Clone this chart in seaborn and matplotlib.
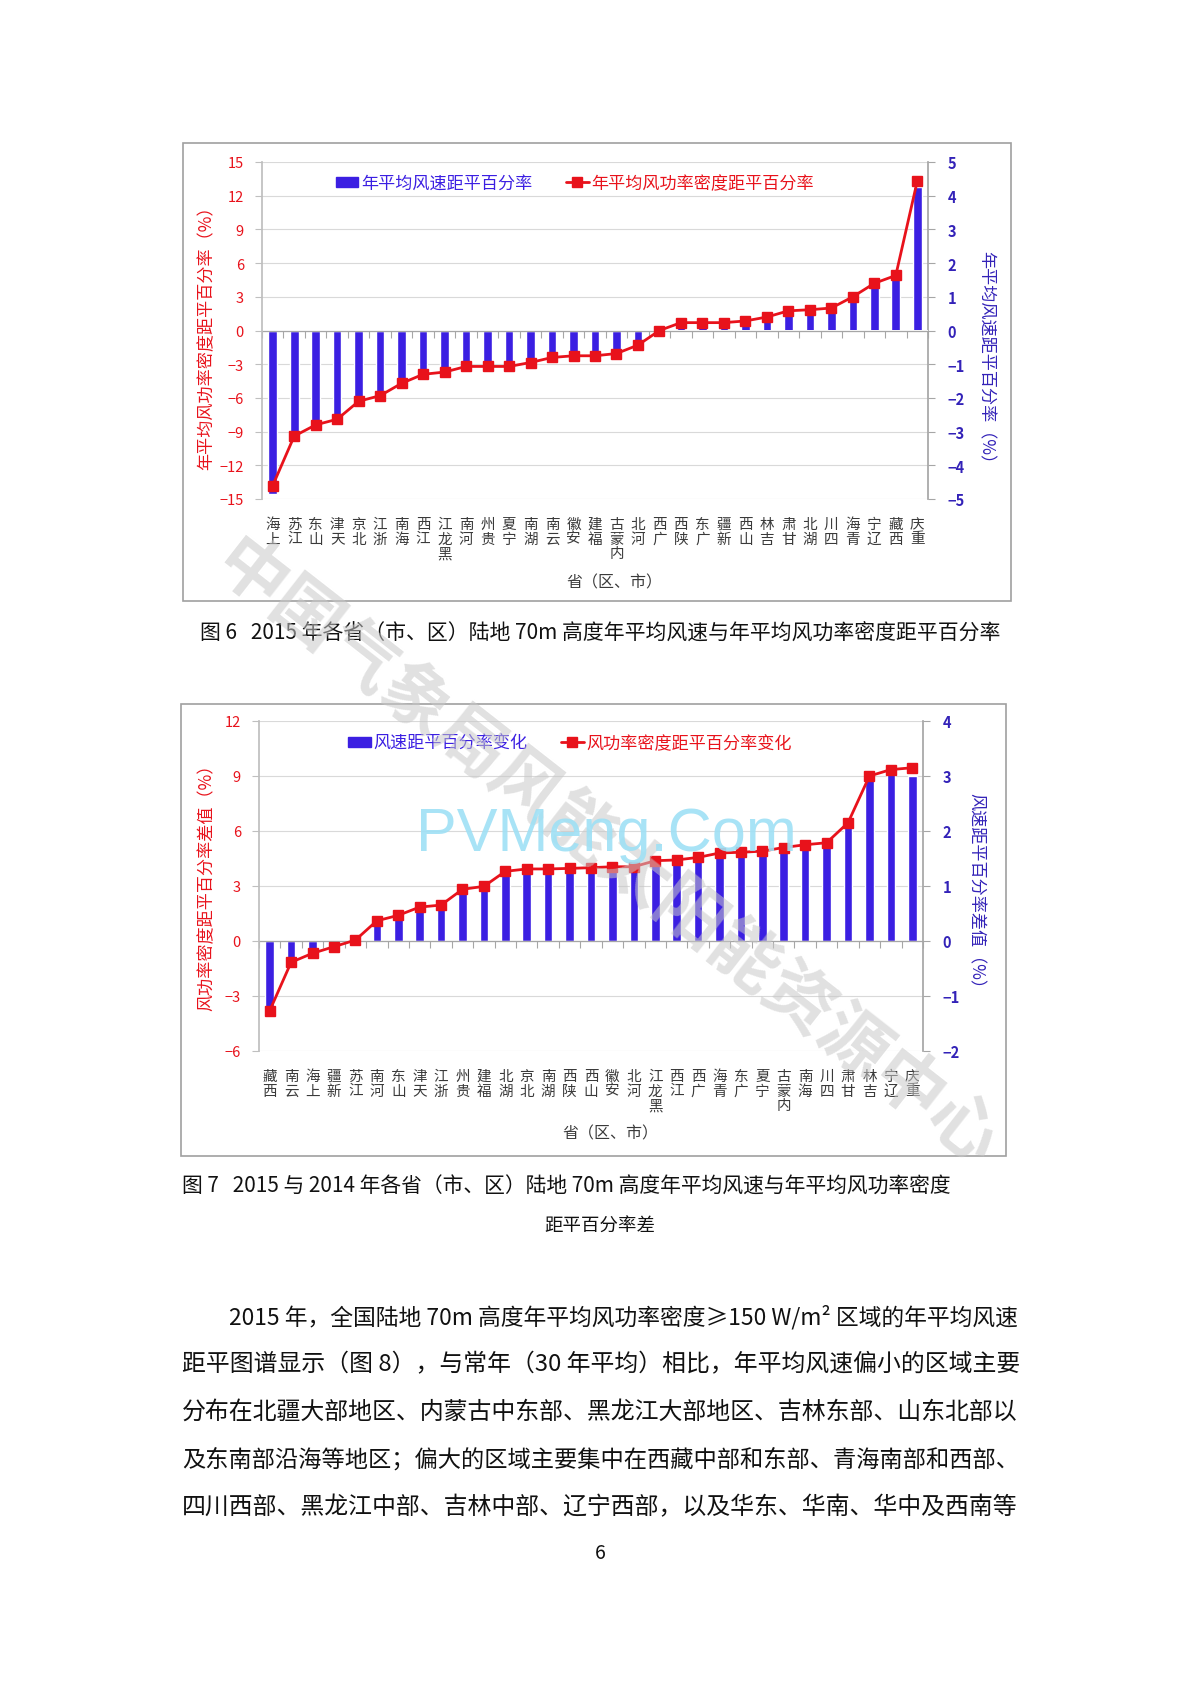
import numpy as np
import matplotlib
matplotlib.use("Agg")
import matplotlib.pyplot as plt
from matplotlib.lines import Line2D
from matplotlib.patches import Rectangle
import seaborn as sns

# --- data -------------------------------------------------------------------
provinces_2015 = ["上海", "江苏", "山东", "天津", "北京", "浙江", "海南", "江西", "黑龙江",
                  "河南", "贵州", "宁夏", "湖南", "云南", "安徽", "福建", "内蒙古", "河北",
                  "广西", "陕西", "广东", "新疆", "山西", "吉林", "甘肃", "湖北", "四川",
                  "青海", "辽宁", "西藏", "重庆"]
speed_anomaly_2015 = [-4.84, -3.2, -2.82, -2.65, -2.05, -1.9, -1.45, -1.22, -1.15,
                      -1.0, -1.0, -0.98, -0.88, -0.75, -0.68, -0.68, -0.66, -0.38,
                      0.0, 0.12, 0.12, 0.12, 0.18, 0.3, 0.5, 0.55, 0.6,
                      0.92, 1.35, 1.55, 4.25]
power_anomaly_2015 = [-13.8, -9.4, -8.4, -7.9, -6.3, -5.8, -4.7, -3.9, -3.7,
                      -3.2, -3.2, -3.2, -2.85, -2.4, -2.25, -2.25, -2.05, -1.3,
                      0.0, 0.7, 0.7, 0.7, 0.85, 1.2, 1.75, 1.85, 2.0,
                      3.0, 4.2, 4.9, 13.3]

provinces_diff = ["西藏", "云南", "上海", "新疆", "江苏", "河南", "山东", "天津", "浙江",
                  "贵州", "福建", "湖北", "北京", "湖南", "陕西", "山西", "安徽", "河北",
                  "黑龙江", "江西", "广西", "青海", "广东", "宁夏", "内蒙古", "海南", "四川",
                  "甘肃", "吉林", "辽宁", "重庆"]
speed_diff = [-1.2, -0.35, -0.19, -0.09, 0.01, 0.33, 0.42, 0.57, 0.6,
              0.9, 0.95, 1.22, 1.25, 1.25, 1.26, 1.27, 1.28, 1.28,
              1.41, 1.42, 1.47, 1.56, 1.57, 1.59, 1.65, 1.71, 1.74,
              2.1, 2.95, 3.08, 3.0]
power_diff = [-3.8, -1.16, -0.67, -0.31, 0.05, 1.1, 1.4, 1.85, 1.96,
              2.82, 2.98, 3.8, 3.93, 3.93, 3.96, 4.0, 4.05, 4.05,
              4.38, 4.42, 4.56, 4.8, 4.84, 4.9, 5.1, 5.25, 5.36,
              6.45, 9.0, 9.35, 9.45]

left_ticks_2015 = [-15, -12, -9, -6, -3, 0, 3, 6, 9, 12, 15]
right_ticks_2015 = [-5, -4, -3, -2, -1, 0, 1, 2, 3, 4, 5]
left_ticks_diff = [-6, -3, 0, 3, 6, 9, 12]
right_ticks_diff = [-2, -1, 0, 1, 2, 3, 4]

caption_6 = "图 6   2015 年各省（市、区）陆地 70m 高度年平均风速与年平均风功率密度距平百分率"
caption_7 = ["图 7   2015 与 2014 年各省（市、区）陆地 70m 高度年平均风速与年平均风功率密度",
             "距平百分率差"]
paragraph = [
    "2015 年，全国陆地 70m 高度年平均风功率密度≥150 W/m² 区域的年平均风速",
    "距平图谱显示（图 8），与常年（30 年平均）相比，年平均风速偏小的区域主要",
    "分布在北疆大部地区、内蒙古中东部、黑龙江大部地区、吉林东部、山东北部以",
    "及东南部沿海等地区；偏大的区域主要集中在西藏中部和东部、青海南部和西部、",
    "四川西部、黑龙江中部、吉林中部、辽宁西部，以及华东、华南、华中及西南等",
]

BAR_BLUE = "#3B1FE2"
TICK_BLUE = "#3322B8"
LINE_RED = "#E8121B"
W, H, DPI = 1190, 1683, 100

sns.set_theme(style="white")
plt.rcParams["font.family"] = ["Noto Sans CJK SC", "DejaVu Sans"]


def px_rect(x0, y0, x1, y1):
    return [x0 / W, 1 - y1 / H, (x1 - x0) / W, (y1 - y0) / H]


def draw_chart(fig, rect, cats, bars, line, lticks, rticks, labels, xlabel_pos,
               ylab_left, ylab_right, legend_labels, legend_center):
    ax = fig.add_axes(px_rect(*rect))
    axr = ax.twinx()

    sns.barplot(x=cats, y=bars, order=cats, color=BAR_BLUE, saturation=1,
                width=0.4, ax=axr, zorder=2)
    axr.set_ylim(rticks[0], rticks[-1])
    axr.set_yticks(rticks)
    axr.grid(axis="y", color="#D9D9D9", lw=0.8)
    axr.set_axisbelow(True)
    axr.set_ylabel(labels[1], color=TICK_BLUE, fontsize=12.3, rotation=270,
                   ha="center", va="center")
    axr.yaxis.set_label_coords(*ylab_right)
    axr.tick_params(axis="y", length=5, width=0.8, color="#A6A6A6",
                    labelcolor=TICK_BLUE, labelsize=10.5, pad=9)
    for t in axr.get_yticklabels():
        t.set_fontweight("bold")

    x = np.arange(len(cats))
    ax.plot(x, line, color=LINE_RED, lw=2.0, marker="s", ms=6.5,
            mfc=LINE_RED, mec=LINE_RED, zorder=3)
    ax.set_zorder(axr.get_zorder() + 1)
    ax.patch.set_visible(False)
    ax.set_ylim(lticks[0], lticks[-1])
    ax.set_yticks(lticks)
    ax.tick_params(axis="y", length=5, width=0.8, color="#BFBFBF",
                   labelcolor=LINE_RED, labelsize=10.5, pad=8)
    ax.set_ylabel(labels[0], color=LINE_RED, fontsize=12.3, ha="center", va="center")
    ax.yaxis.set_label_coords(*ylab_left)

    ax.set_xlim(-0.5, len(cats) - 0.5)
    ax.set_xticks(x)
    # stacked upright characters reading bottom-to-top, hung from the axis
    ax.set_xticklabels(["\n".join(reversed(c)) for c in cats], va="top",
                       linespacing=1.05, fontsize=10.5, color="#3A3A3A")
    ax.tick_params(axis="x", length=0, pad=13)
    ax.set_xlabel("省（区、市）", fontsize=11.5, color="#3A3A3A", ha="center", va="center")
    ax.xaxis.set_label_coords(*xlabel_pos)

    for name, sp in ax.spines.items():
        sp.set_visible(name == "left")
    ax.spines["left"].set_color("#BFBFBF")
    for name, sp in axr.spines.items():
        sp.set_visible(name == "right")
    axr.spines["right"].set_color("#A6A6A6")

    # category axis crossing at zero, ticks between categories
    zero_loc = (0 - lticks[0]) / (lticks[-1] - lticks[0])
    sec = ax.secondary_xaxis(zero_loc)
    sec.set_alignment("bottom")
    sec.set_xticks(np.arange(len(cats) + 1) - 0.5)
    sec.set_xticklabels([])
    sec.tick_params(axis="x", length=5, width=0.8, color="#A6A6A6")
    sec.spines["bottom"].set_color("#A6A6A6")
    sec.spines["bottom"].set_linewidth(0.9)

    handles = [Rectangle((0, 0), 1, 1, color=BAR_BLUE),
               Line2D([], [], color=LINE_RED, lw=2.0, marker="s", ms=6.5)]
    leg = ax.legend(handles, legend_labels, loc="center",
                    bbox_to_anchor=(legend_center[0] / W, 1 - legend_center[1] / H),
                    bbox_transform=fig.transFigure, ncol=2, frameon=False,
                    fontsize=12.3, handlelength=1.3, handleheight=0.55,
                    handletextpad=0.15, columnspacing=2.0)
    for txt, col in zip(leg.get_texts(), [BAR_BLUE, LINE_RED]):
        txt.set_color(col)
    return ax


def fit_text(fig, x0, x1, y, s, size, color="#111111"):
    t = fig.text(x0 / W, 1 - y / H, s, fontsize=size, ha="left", va="center", color=color)
    w = t.get_window_extent(fig.canvas.get_renderer()).width
    t.set_fontsize(size * (x1 - x0) / w)
    return t


fig = plt.figure(figsize=(W / DPI, H / DPI), dpi=DPI)
fig.patch.set_facecolor("white")

# chart frames
for x0, y0, x1, y1 in [(183, 144, 1011, 602), (181, 705, 1006, 1157)]:
    fig.add_artist(Rectangle((x0 / W, 1 - y1 / H), (x1 - x0) / W, (y1 - y0) / H,
                             transform=fig.transFigure, fill=False,
                             ec="#A0A0A0", lw=1.2))

ax1 = draw_chart(fig, (262, 163, 928, 500), provinces_2015, speed_anomaly_2015,
                 power_anomaly_2015, left_ticks_2015, right_ticks_2015,
                 ["年平均风功率密度距平百分率（%）", "年平均风速距平百分率（%）"],
                 ((614 - 262) / 666, (500 - 583) / 337),
                 ((206 - 262) / 666, (500 - 334) / 337),
                 ((986 - 262) / 666, (500 - 362) / 337),
                 ["年平均风速距平百分率", "年平均风功率密度距平百分率"], (575, 184))

ax2 = draw_chart(fig, (259, 722, 923, 1052), provinces_diff, speed_diff, power_diff,
                 left_ticks_diff, right_ticks_diff,
                 ["风功率密度距平百分率差值（%）", "风速距平百分率差值（%）"],
                 ((610 - 259) / 664, (1052 - 1134) / 330),
                 ((206 - 259) / 664, (1052 - 883) / 330),
                 ((976 - 259) / 664, (1052 - 895) / 330),
                 ["风速距平百分率变化", "风功率密度距平百分率变化"], (570, 744))

# captions and body text
fit_text(fig, 200, 1003, 633, caption_6, 14)
fit_text(fig, 182, 954, 1187, caption_7[0], 14)
fig.text(600 / W, 1 - 1227 / H, caption_7[1], fontsize=13.3, ha="center", va="center",
         color="#111111")
for i, (line_txt, y) in enumerate(zip(paragraph, [1317, 1365, 1412, 1460, 1508])):
    fit_text(fig, 229 if i == 0 else 182, 1020, y, line_txt, 16)
fig.text(600 / W, 1 - 1554 / H, "6", fontsize=14, ha="center", va="center", color="#111111")

# watermarks
fig.text(606 / W, 1 - 855 / H, "中国气象局风能太阳能资源中心", fontsize=50,
         rotation=-38, rotation_mode="anchor", ha="center", va="center",
         color="#C8C8C8", alpha=0.55, fontweight="bold", zorder=20)
fig.text(606 / W, 1 - 836 / H, "PVMeng.Com", fontsize=44, family="Liberation Sans",
         ha="center", va="center", color="#9FE0F5", alpha=0.9, zorder=21)

fig.savefig("out.png", dpi=DPI, facecolor="white")
